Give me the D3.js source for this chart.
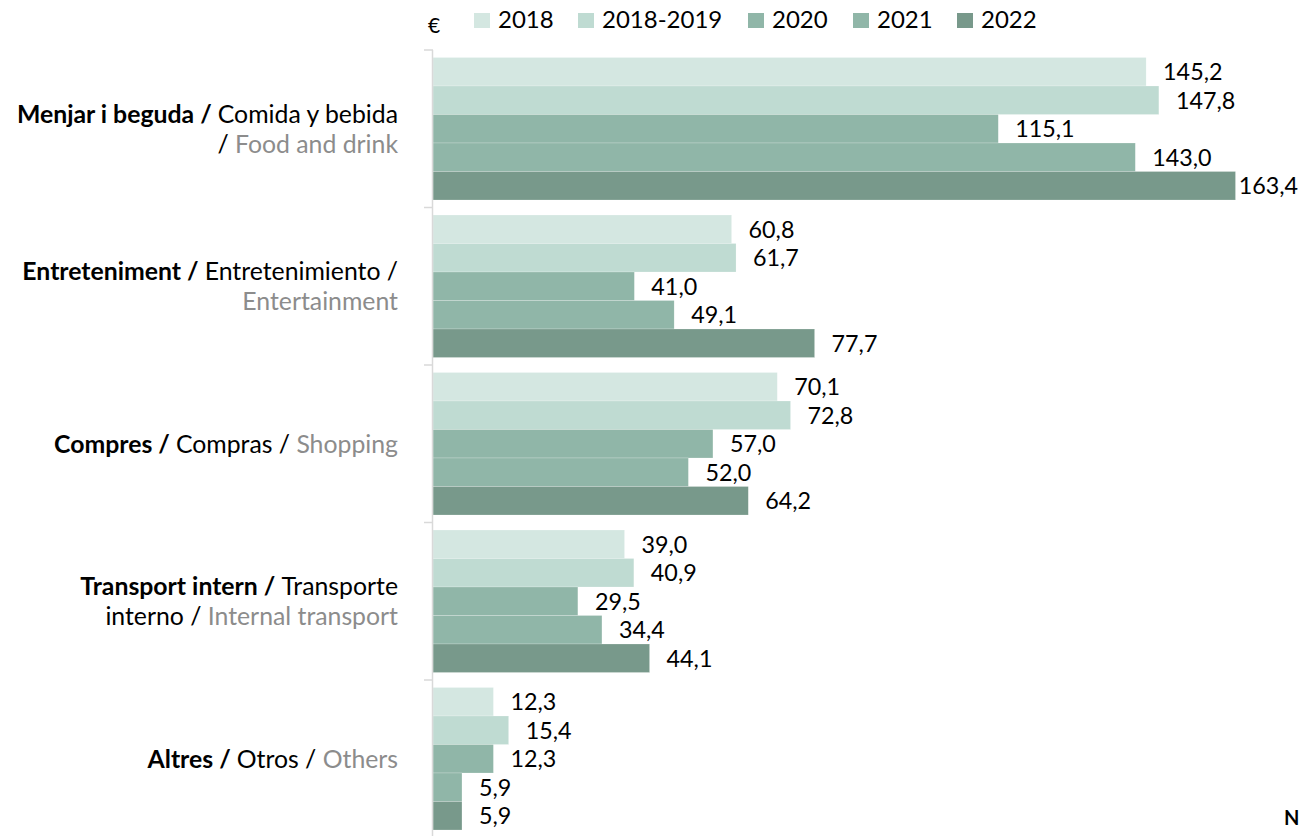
<!DOCTYPE html>
<html><head><meta charset="utf-8">
<script src="https://cdn.jsdelivr.net/npm/d3@7"></script>
<style>body{margin:0;background:#fff;} text{font-family:Lato,"Open Sans",sans-serif;}</style>
</head><body>
<svg id="c" width="1301" height="836"></svg>
<script>
const categories = [
  {ca:"Menjar i beguda", lines:[[["b","Menjar i beguda / "],["k","Comida y bebida"]],[["k","/ "],["g","Food and drink"]]]},
  {ca:"Entreteniment", lines:[[["b","Entreteniment / "],["k","Entretenimiento /"]],[["g","Entertainment"]]]},
  {ca:"Compres", lines:[[["b","Compres / "],["k","Compras / "],["g","Shopping"]]]},
  {ca:"Transport intern", lines:[[["b","Transport intern / "],["k","Transporte"]],[["k","interno / "],["g","Internal transport"]]]},
  {ca:"Altres", lines:[[["b","Altres / "],["k","Otros / "],["g","Others"]]]}
];
const seriesNames = ["2018","2018-2019","2020","2021","2022"];
const v2018 = [145.2, 60.8, 70.1, 39.0, 12.3];
const v2018_2019 = [147.8, 61.7, 72.8, 40.9, 15.4];
const v2020 = [115.1, 41.0, 57.0, 29.5, 12.3];
const v2021 = [143.0, 49.1, 52.0, 34.4, 5.9];
const v2022 = [163.4, 77.7, 64.2, 44.1, 5.9];
const seriesValues = [v2018, v2018_2019, v2020, v2021, v2022];
const colors = ["#d4e7e1","#bfdbd2","#90b6a8","#90b6a8","#78998b"];

const svg = d3.select("#c");
const x = d3.scaleLinear().domain([0, 163.4]).range([433, 1235.5]);
const y = d3.scaleBand().domain(categories.map(c=>c.ca)).range([50, 837.5]).padding(0);
const ys = d3.scaleBand().domain(seriesNames).range([7.5, y.bandwidth()-7.5]).padding(0);
const fmt = v => v.toFixed(1).replace(".", ",");

// bars
categories.forEach((c, i) => {
  const g = svg.append("g").attr("transform", `translate(0,${y(c.ca)})`);
  seriesNames.forEach((s, j) => {
    const v = seriesValues[j][i];
    g.append("rect").attr("x", x(0)).attr("y", ys(s)).attr("width", x(v)-x(0)).attr("height", ys.bandwidth())
      .attr("fill", colors[j]).attr("stroke", "#fff").attr("stroke-width", 0.4).attr("stroke-opacity",0.5);
    const t = g.append("text").attr("x", x(v) + 17).attr("y", ys(s) + ys.bandwidth()/2).attr("dy", "0.36em")
      .attr("font-size", 23.3).attr("fill", "#000").text(fmt(v));
    const w = t.node().getComputedTextLength();
    if (x(v) + 17 + w > 1298) t.attr("x", 1298 - w);
  });
});

// axis
svg.append("line").attr("x1", 432.5).attr("x2", 432.5).attr("y1", 50).attr("y2", 836).attr("stroke", "#d9d9d9").attr("stroke-width", 1.5);
const bounds = categories.map(c=>y(c.ca)).concat([837.5]);
svg.selectAll(".tk").data(bounds).join("line").attr("x1", 424).attr("x2", 433)
  .attr("y1", d=>d).attr("y2", d=>d).attr("stroke", "#d9d9d9").attr("stroke-width", 1.5);

// category labels
const styleMap = {b:{w:"bold",c:"#000"}, k:{w:"normal",c:"#000"}, g:{w:"normal",c:"#8c8c8c"}};
categories.forEach(c => {
  const cy = y(c.ca) + y.bandwidth()/2;
  const n = c.lines.length;
  c.lines.forEach((ln, li) => {
    const t = svg.append("text").attr("x", 398).attr("y", cy + (li - (n-1)/2)*30).attr("dy","0.36em")
      .attr("text-anchor","end").attr("font-size", 24.8);
    ln.forEach(([k, s]) => t.append("tspan").attr("font-weight", styleMap[k].w).attr("fill", styleMap[k].c).text(s));
  });
});

// legend
svg.append("text").attr("x", 428).attr("y", 25).attr("dy","0.36em").attr("font-size", 21).text("€");
const legX = [474, 578, 748, 853, 957];
seriesNames.forEach((s, j) => {
  svg.append("rect").attr("x", legX[j]).attr("y", 13).attr("width", 16).attr("height", 15).attr("fill", colors[j]);
  svg.append("text").attr("x", legX[j] + 24).attr("y", 19.5).attr("dy","0.36em").attr("font-size", 24).text(s);
});

svg.append("text").attr("x", 1284).attr("y", 818).attr("dy","0.36em").attr("font-size", 20).attr("font-weight","bold").text("N");
</script>
</body></html>
